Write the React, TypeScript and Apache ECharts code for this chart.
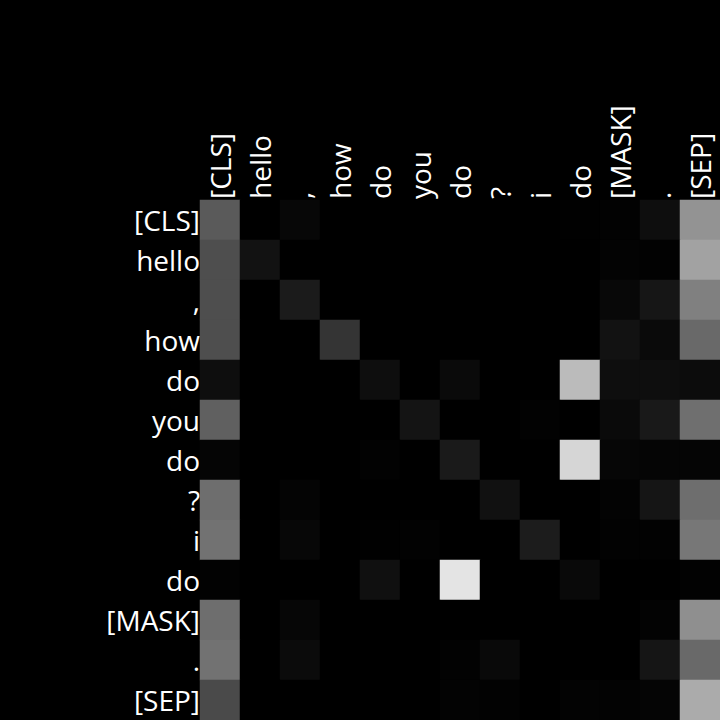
import React, { useEffect, useRef } from "react";
import * as echarts from "echarts";

const tokens = ["[CLS]", "hello", ",", "how", "do", "you", "do", "?", "i", "do", "[MASK]", ".", "[SEP]"];

// attention weights, row = query token, column = key token
const attention: number[][] = [
  [0.353, 0, 0.027, 0, 0, 0, 0, 0, 0, 0.004, 0.008, 0.055, 0.576],
  [0.306, 0.071, 0, 0, 0, 0, 0, 0, 0, 0, 0.012, 0.008, 0.635],
  [0.306, 0, 0.106, 0, 0, 0, 0, 0, 0, 0, 0.031, 0.086, 0.502],
  [0.306, 0, 0, 0.204, 0, 0, 0, 0, 0, 0, 0.071, 0.039, 0.412],
  [0.055, 0, 0, 0, 0.055, 0, 0.039, 0, 0, 0.733, 0.055, 0.055, 0.047],
  [0.376, 0, 0, 0, 0, 0.078, 0, 0, 0.008, 0, 0.039, 0.098, 0.435],
  [0.02, 0, 0, 0, 0.008, 0, 0.102, 0, 0, 0.839, 0.024, 0.02, 0.02],
  [0.431, 0, 0.016, 0, 0, 0, 0, 0.067, 0, 0, 0.012, 0.082, 0.431],
  [0.447, 0, 0.027, 0, 0.004, 0.008, 0, 0, 0.11, 0, 0.008, 0.008, 0.467],
  [0.008, 0, 0, 0, 0.063, 0, 0.894, 0, 0, 0.035, 0, 0, 0.008],
  [0.431, 0, 0.024, 0, 0, 0, 0, 0, 0, 0, 0, 0.012, 0.561],
  [0.447, 0, 0.043, 0, 0, 0, 0.008, 0.035, 0, 0, 0, 0.082, 0.412],
  [0.29, 0, 0, 0, 0, 0, 0.012, 0.008, 0, 0.012, 0.012, 0.02, 0.671],
];

export default function App() {
  const ref = useRef<HTMLDivElement>(null);
  useEffect(() => {
    if (!ref.current) return;
    const chart = echarts.init(ref.current, undefined, { renderer: "svg" });
    const data: [number, number, number][] = [];
    attention.forEach((row, r) => row.forEach((v, c) => data.push([c, r, v])));
    const font = "Open Sans";
    chart.setOption({
      animation: false,
      backgroundColor: "#000000",
      grid: { left: 200, top: 200, width: 520, height: 520 },
      xAxis: {
        type: "category",
        position: "top",
        data: tokens,
        axisLine: { show: false },
        axisTick: { show: false },
        splitLine: { show: false },
        axisLabel: { rotate: -90, color: "#ffffff", fontSize: 28, fontFamily: font, margin: 1, interval: 0 },
      },
      yAxis: {
        type: "category",
        inverse: true,
        data: tokens,
        axisLine: { show: false },
        axisTick: { show: false },
        splitLine: { show: false },
        axisLabel: { color: "#ffffff", fontSize: 28, fontFamily: font, margin: 0, interval: 0 },
      },
      visualMap: {
        show: false,
        min: 0,
        max: 1,
        inRange: { color: ["#000000", "#ffffff"] },
      },
      series: [
        {
          type: "heatmap",
          data,
          itemStyle: { borderWidth: 0 },
          emphasis: { disabled: true },
        },
      ],
    });
    return () => chart.dispose();
  }, []);
  return (
    <div
      ref={ref}
      style={{ position: "fixed", left: 0, top: 0, width: 720, height: 720, background: "#000" }}
    />
  );
}
